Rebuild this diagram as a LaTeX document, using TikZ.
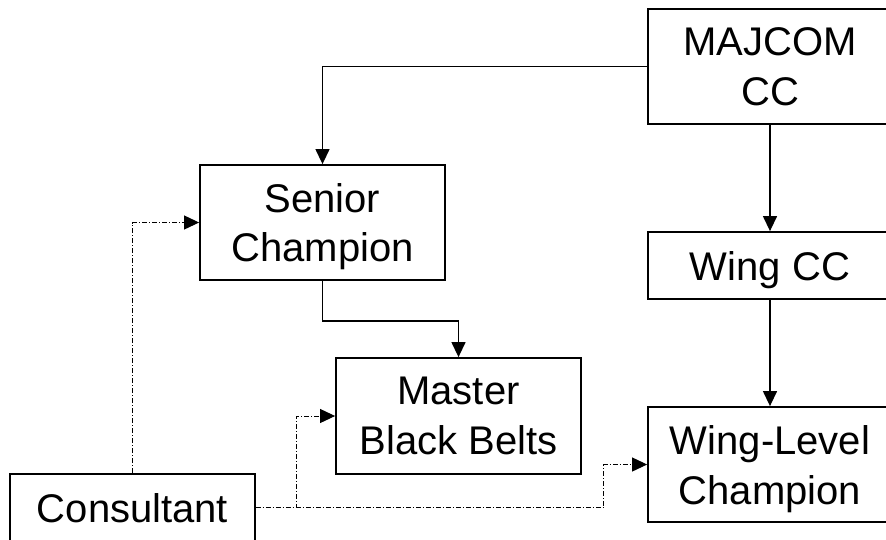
\documentclass[tikz,border=0pt]{standalone}
\usepackage{fontspec}
\setmainfont{Liberation Sans}
\usetikzlibrary{arrows.meta}
\tikzset{
  box/.style={draw, line width=1.8pt, align=center, inner sep=0pt, text depth=0pt,
    font=\fontsize{40}{50}\selectfont},
  link/.style={line width=1.3pt, -{Triangle[length=15pt,width=14pt]}},
  hint/.style={line width=1pt, dash pattern=on 5pt off 2pt on 1pt off 2pt,
    -{Triangle[length=15pt,width=14pt]}}
}
\begin{document}
\begin{tikzpicture}[x=1pt,y=-1pt]
\useasboundingbox (0,0) rectangle (886,539);
\clip (0,0) rectangle (886,539);
\node[box, minimum width=244pt, minimum height=115pt] (majcom) at (770,66.5) {MAJCOM\\CC};
\node[box, minimum width=245pt, minimum height=115pt] (senior) at (322.5,222.5) {Senior\\Champion};
\node[box, minimum width=244pt, minimum height=67pt] (wingcc) at (770,265.5) {Wing CC};
\node[box, minimum width=245pt, minimum height=116pt] (master) at (458.5,416) {Master\\Black Belts};
\node[box, minimum width=244pt, minimum height=115pt] (winglvl) at (770,464.5) {Wing-Level\\Champion};
\node[box, minimum width=245pt, minimum height=67pt] (consult) at (132.5,507.5) {Consultant};

\draw[link] (majcom.west) -| (senior.north);
\draw[link] (majcom.south) -- (wingcc.north);
\draw[link] (wingcc.south) -- (winglvl.north);
\draw[link] (senior.south) -- ++(0,40) -| (master.north);

\draw[hint] (consult.north) |- (senior.west);
\draw[hint] (consult.east) -- ++(41,0) |- (master.west);
\draw[hint] (consult.east) -- ++(348,0) |- (winglvl.west);
\end{tikzpicture}
\end{document}
